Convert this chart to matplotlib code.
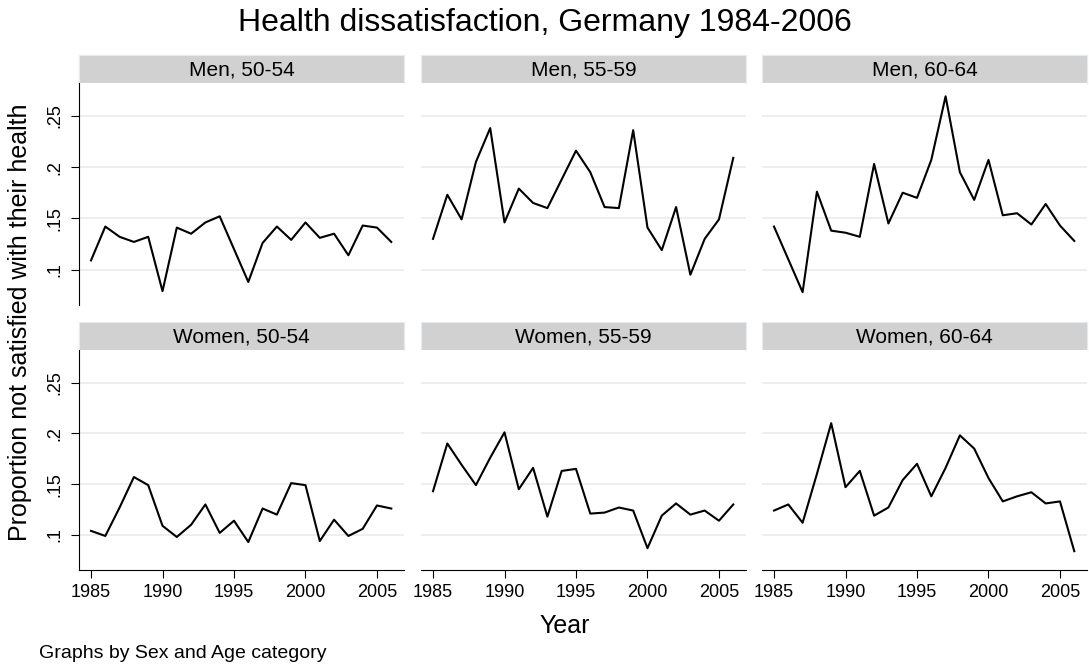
import matplotlib
matplotlib.use('Agg')
import matplotlib.pyplot as plt

plt.rcParams['font.family'] = ['Liberation Sans', 'DejaVu Sans']

years = list(range(1985, 2007))

panel_titles = ['Men, 50-54', 'Men, 55-59', 'Men, 60-64',
                'Women, 50-54', 'Women, 55-59', 'Women, 60-64']

men_50_54 = [0.109, 0.142, 0.132, 0.127, 0.132, 0.079, 0.141, 0.135, 0.146, 0.152, 0.120,
             0.088, 0.126, 0.142, 0.129, 0.146, 0.131, 0.135, 0.114, 0.143, 0.141, 0.127]
men_55_59 = [0.130, 0.173, 0.149, 0.205, 0.238, 0.146, 0.179, 0.165, 0.160, 0.188, 0.216,
             0.195, 0.161, 0.160, 0.236, 0.141, 0.119, 0.161, 0.095, 0.130, 0.149, 0.209]
men_60_64 = [0.142, 0.110, 0.078, 0.176, 0.138, 0.136, 0.132, 0.203, 0.145, 0.175, 0.170,
             0.207, 0.269, 0.195, 0.168, 0.207, 0.153, 0.155, 0.144, 0.164, 0.143, 0.128]
women_50_54 = [0.104, 0.099, 0.127, 0.157, 0.149, 0.109, 0.098, 0.110, 0.130, 0.102, 0.114,
               0.093, 0.126, 0.120, 0.151, 0.149, 0.094, 0.115, 0.099, 0.106, 0.129, 0.126]
women_55_59 = [0.143, 0.190, 0.169, 0.149, 0.176, 0.201, 0.145, 0.166, 0.118, 0.163, 0.165,
               0.121, 0.122, 0.127, 0.124, 0.087, 0.119, 0.131, 0.120, 0.124, 0.114, 0.130]
women_60_64 = [0.124, 0.130, 0.112, 0.160, 0.210, 0.147, 0.163, 0.119, 0.127, 0.154, 0.170,
               0.138, 0.166, 0.198, 0.185, 0.156, 0.133, 0.138, 0.142, 0.131, 0.133, 0.084]

y_ticks = [0.1, 0.15, 0.2, 0.25]
y_tick_labels = ['.1', '.15', '.2', '.25']
x_ticks = [1985, 1990, 1995, 2000, 2005]

W, H = 1089, 668


def px_rect(x0, y0, x1, y1):
    # pixel box (top-left origin) -> figure fraction rect
    return [x0 / W, 1 - y1 / H, (x1 - x0) / W, (y1 - y0) / H]


def main():
    fig = plt.figure(figsize=(W / 100, H / 100), dpi=100)
    series = [men_50_54, men_55_59, men_60_64, women_50_54, women_55_59, women_60_64]

    col_left = [79, 421, 762]
    col_w = 325
    rows = [(55, 83, 305), (322, 350, 570)]  # header top, plot top, plot bottom

    for i, vals in enumerate(series):
        r, c = divmod(i, 3)
        htop, ptop, pbot = rows[r]
        x0 = col_left[c]

        hax = fig.add_axes(px_rect(x0, htop, x0 + col_w, ptop))
        hax.set_facecolor('#d1d1d1')
        hax.set_xticks([])
        hax.set_yticks([])
        for s in hax.spines.values():
            s.set_color('#e4ebf1')
            s.set_linewidth(0.8)
        hax.text(0.5, 0.48, panel_titles[i], ha='center', va='center', fontsize=15)

        ax = fig.add_axes(px_rect(x0, ptop, x0 + col_w, pbot))
        ax.plot(years, vals, color='black', lw=1.5)
        ax.set_xlim(1984.16, 2006.89)
        ax.set_ylim(0.0655, 0.282)
        ax.set_yticks(y_ticks)
        for yv in y_ticks:
            ax.axhline(yv, color='#eaeaea', lw=1.1, zorder=0)
        for s in ['top', 'right']:
            ax.spines[s].set_visible(False)

        if c == 0:
            ax.set_yticklabels(y_tick_labels, rotation=90, va='center', fontsize=13)
            ax.tick_params(axis='y', length=6, width=0.8, pad=5)
            ax.spines['left'].set_linewidth(0.8)
        else:
            ax.spines['left'].set_visible(False)
            ax.tick_params(axis='y', length=0, labelleft=False)

        if r == 1:
            ax.set_xticks(x_ticks)
            ax.set_xticklabels([str(x) for x in x_ticks], fontsize=13)
            ax.tick_params(axis='x', length=6, width=0.8, pad=4)
            ax.spines['bottom'].set_linewidth(0.8)
        else:
            ax.spines['bottom'].set_visible(False)
            ax.set_xticks([])

    fig.text(0.5, 1 - 23 / H, 'Health dissatisfaction, Germany 1984-2006',
             ha='center', va='center', fontsize=23)
    fig.text(565 / W, 1 - 626 / H, 'Year', ha='center', va='center', fontsize=18)
    fig.text(20 / W, 1 - 322 / H, 'Proportion not satisfied with their health',
             ha='center', va='center', rotation=90, fontsize=18)
    fig.text(39 / W, 1 - 653 / H, 'Graphs by Sex and Age category',
             ha='left', va='center', fontsize=14)

    fig.savefig('out.png', dpi=100)
    plt.close(fig)


if __name__ == "__main__":
    main()
